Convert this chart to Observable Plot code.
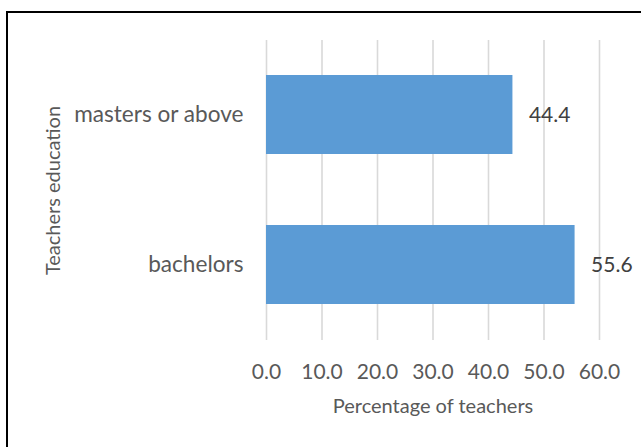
<!DOCTYPE html>
<html>
<head>
<meta charset="utf-8">
<script src="https://cdn.jsdelivr.net/npm/d3@7"></script>
<script src="https://cdn.jsdelivr.net/npm/@observablehq/plot@0.6"></script>
<style>
  html, body { margin: 0; padding: 0; background: #fff; }
  #wrap { position: relative; width: 641px; height: 447px; overflow: hidden; }
  #frame { position: absolute; left: 6px; top: 11px; width: 700px; height: 500px;
           border-left: 2px solid #000; border-top: 2px solid #000; box-sizing: border-box; pointer-events: none; }
  #chart { position: absolute; left: 0; top: 0; }
</style>
</head>
<body>
<div id="wrap"><div id="chart"></div><div id="frame"></div></div>
<script>
const categories = ["masters or above", "bachelors"];
const percentages = [44.4, 55.6];
const xTicks = [0, 10, 20, 30, 40, 50, 60];
const xTitle = "Percentage of teachers";
const yTitle = "Teachers education";

const rows = categories.map((c, i) => ({category: c, value: percentages[i]}));
const font = "Lato, 'Noto Sans', sans-serif";

const chart = Plot.plot({
  width: 641,
  height: 447,
  marginLeft: 266,
  marginRight: 42,
  marginTop: 40,
  marginBottom: 107,
  style: {fontFamily: font, background: "transparent"},
  x: {domain: [0, 60]},
  y: {domain: categories, paddingInner: 0.473, paddingOuter: 0.2365},
  marks: [
    Plot.ruleX(xTicks, {stroke: "#d9d9d9", strokeWidth: 1.6}),
    Plot.barX(rows, {x: "value", y: "category", fill: "#5b9bd5"}),
    Plot.text(rows, {x: "value", y: "category", text: d => d.value.toFixed(1), dx: 16,
      textAnchor: "start", fill: "#404040", fontSize: 21}),
    Plot.axisX({ticks: xTicks, tickFormat: d => d.toFixed(1), tickSize: 0, tickPadding: 24,
      fontSize: 21, color: "#595959", label: null}),
    Plot.axisY({tickSize: 0, tickPadding: 23, fontSize: 22.6, color: "#595959", label: null}),
    Plot.text([xTitle], {frameAnchor: "bottom", dy: 72, fontSize: 20, fill: "#595959"}),
    Plot.text([yTitle], {frameAnchor: "left", dx: -213, rotate: -90, textAnchor: "middle",
      fontSize: 20, fill: "#595959"})
  ]
});
document.getElementById("chart").appendChild(chart);
</script>
</body>
</html>
